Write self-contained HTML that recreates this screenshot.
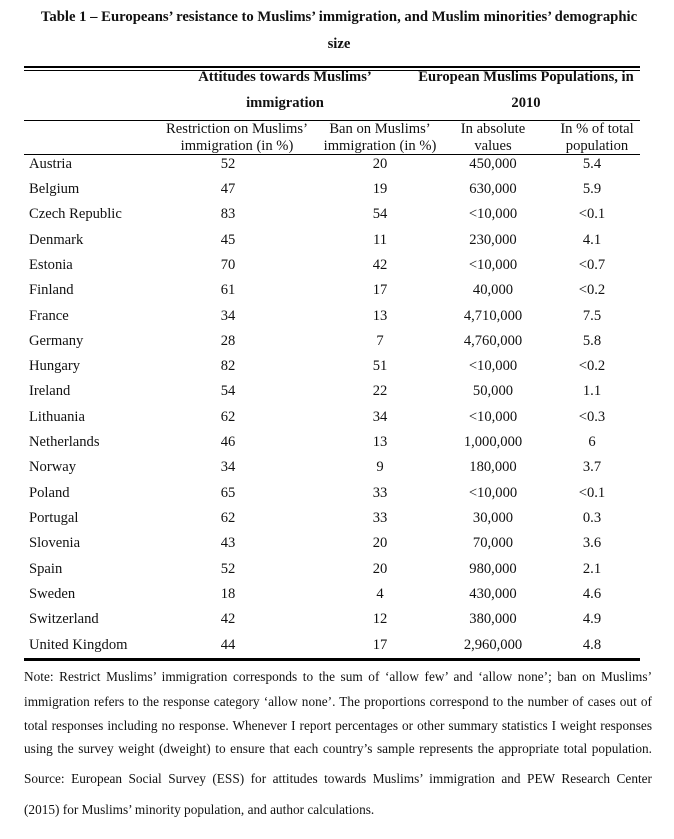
<!DOCTYPE html>
<html><head><meta charset="utf-8"><style>
body{margin:0;background:#fff;width:674px;height:839px;position:relative;font-family:"Liberation Serif",serif;color:#111;overflow:hidden}
.a{position:absolute;white-space:nowrap;font-size:14.6px;line-height:16px}
.b{font-weight:bold}
.c{transform:translateX(-50%);text-align:center}
.r{position:absolute;left:24px;width:616px;background:#000}
.n{position:absolute;left:24px;width:628px;font-size:13.3px;text-align:justify;text-align-last:justify;white-space:nowrap;line-height:16px}
</style></head><body>
<div class="a b c" style="left:339px;top:9px;font-size:14.7px">Table 1 – Europeans’ resistance to Muslims’ immigration, and Muslim minorities’ demographic</div>
<div class="a b c" style="left:339px;top:36px;font-size:14.7px">size</div>
<div class="r" style="top:66px;height:2px"></div>
<div class="r" style="top:69.5px;height:1px"></div>
<div class="a b c" style="left:285px;top:69px">Attitudes towards Muslims’</div>
<div class="a b c" style="left:285px;top:95px">immigration</div>
<div class="a b c" style="left:526px;top:69px">European Muslims Populations, in</div>
<div class="a b c" style="left:526px;top:95px">2010</div>
<div class="r" style="top:120px;height:1px"></div>
<div class="a c" style="left:237px;top:121px;line-height:17px">Restriction on Muslims’<br>immigration (in %)</div>
<div class="a c" style="left:380px;top:121px;line-height:17px">Ban on Muslims’<br>immigration (in %)</div>
<div class="a c" style="left:493px;top:121px;line-height:17px">In absolute<br>values</div>
<div class="a c" style="left:597px;top:121px;line-height:17px">In % of total<br>population</div>
<div class="r" style="top:154px;height:1px"></div>
<div class="r" style="top:658px;height:2.5px"></div>
<div class="n" style="top:669px">Note: Restrict Muslims’ immigration corresponds to the sum of ‘allow few’ and ‘allow none’; ban on Muslims’</div>
<div class="n" style="top:694px">immigration refers to the response category ‘allow none’. The proportions correspond to the number of cases out of</div>
<div class="n" style="top:718px">total responses including no response. Whenever I report percentages or other summary statistics I weight responses</div>
<div class="n" style="top:741px">using the survey weight (dweight) to ensure that each country’s sample represents the appropriate total population.</div>
<div class="n" style="top:771px">Source: European Social Survey (ESS) for attitudes towards Muslims’ immigration and PEW Research Center</div>
<div class="a" style="left:24px;top:802px;font-size:13.3px">(2015) for Muslims’ minority population, and author calculations.</div>
<div class="a" style="left:29px;top:156px">Austria</div><div class="a c" style="left:228px;top:156px">52</div><div class="a c" style="left:380px;top:156px">20</div><div class="a c" style="left:493px;top:156px">450,000</div><div class="a c" style="left:592px;top:156px">5.4</div>
<div class="a" style="left:29px;top:181px">Belgium</div><div class="a c" style="left:228px;top:181px">47</div><div class="a c" style="left:380px;top:181px">19</div><div class="a c" style="left:493px;top:181px">630,000</div><div class="a c" style="left:592px;top:181px">5.9</div>
<div class="a" style="left:29px;top:206px">Czech Republic</div><div class="a c" style="left:228px;top:206px">83</div><div class="a c" style="left:380px;top:206px">54</div><div class="a c" style="left:493px;top:206px">&lt;10,000</div><div class="a c" style="left:592px;top:206px">&lt;0.1</div>
<div class="a" style="left:29px;top:232px">Denmark</div><div class="a c" style="left:228px;top:232px">45</div><div class="a c" style="left:380px;top:232px">11</div><div class="a c" style="left:493px;top:232px">230,000</div><div class="a c" style="left:592px;top:232px">4.1</div>
<div class="a" style="left:29px;top:257px">Estonia</div><div class="a c" style="left:228px;top:257px">70</div><div class="a c" style="left:380px;top:257px">42</div><div class="a c" style="left:493px;top:257px">&lt;10,000</div><div class="a c" style="left:592px;top:257px">&lt;0.7</div>
<div class="a" style="left:29px;top:282px">Finland</div><div class="a c" style="left:228px;top:282px">61</div><div class="a c" style="left:380px;top:282px">17</div><div class="a c" style="left:493px;top:282px">40,000</div><div class="a c" style="left:592px;top:282px">&lt;0.2</div>
<div class="a" style="left:29px;top:308px">France</div><div class="a c" style="left:228px;top:308px">34</div><div class="a c" style="left:380px;top:308px">13</div><div class="a c" style="left:493px;top:308px">4,710,000</div><div class="a c" style="left:592px;top:308px">7.5</div>
<div class="a" style="left:29px;top:333px">Germany</div><div class="a c" style="left:228px;top:333px">28</div><div class="a c" style="left:380px;top:333px">7</div><div class="a c" style="left:493px;top:333px">4,760,000</div><div class="a c" style="left:592px;top:333px">5.8</div>
<div class="a" style="left:29px;top:358px">Hungary</div><div class="a c" style="left:228px;top:358px">82</div><div class="a c" style="left:380px;top:358px">51</div><div class="a c" style="left:493px;top:358px">&lt;10,000</div><div class="a c" style="left:592px;top:358px">&lt;0.2</div>
<div class="a" style="left:29px;top:383px">Ireland</div><div class="a c" style="left:228px;top:383px">54</div><div class="a c" style="left:380px;top:383px">22</div><div class="a c" style="left:493px;top:383px">50,000</div><div class="a c" style="left:592px;top:383px">1.1</div>
<div class="a" style="left:29px;top:409px">Lithuania</div><div class="a c" style="left:228px;top:409px">62</div><div class="a c" style="left:380px;top:409px">34</div><div class="a c" style="left:493px;top:409px">&lt;10,000</div><div class="a c" style="left:592px;top:409px">&lt;0.3</div>
<div class="a" style="left:29px;top:434px">Netherlands</div><div class="a c" style="left:228px;top:434px">46</div><div class="a c" style="left:380px;top:434px">13</div><div class="a c" style="left:493px;top:434px">1,000,000</div><div class="a c" style="left:592px;top:434px">6</div>
<div class="a" style="left:29px;top:459px">Norway</div><div class="a c" style="left:228px;top:459px">34</div><div class="a c" style="left:380px;top:459px">9</div><div class="a c" style="left:493px;top:459px">180,000</div><div class="a c" style="left:592px;top:459px">3.7</div>
<div class="a" style="left:29px;top:485px">Poland</div><div class="a c" style="left:228px;top:485px">65</div><div class="a c" style="left:380px;top:485px">33</div><div class="a c" style="left:493px;top:485px">&lt;10,000</div><div class="a c" style="left:592px;top:485px">&lt;0.1</div>
<div class="a" style="left:29px;top:510px">Portugal</div><div class="a c" style="left:228px;top:510px">62</div><div class="a c" style="left:380px;top:510px">33</div><div class="a c" style="left:493px;top:510px">30,000</div><div class="a c" style="left:592px;top:510px">0.3</div>
<div class="a" style="left:29px;top:535px">Slovenia</div><div class="a c" style="left:228px;top:535px">43</div><div class="a c" style="left:380px;top:535px">20</div><div class="a c" style="left:493px;top:535px">70,000</div><div class="a c" style="left:592px;top:535px">3.6</div>
<div class="a" style="left:29px;top:561px">Spain</div><div class="a c" style="left:228px;top:561px">52</div><div class="a c" style="left:380px;top:561px">20</div><div class="a c" style="left:493px;top:561px">980,000</div><div class="a c" style="left:592px;top:561px">2.1</div>
<div class="a" style="left:29px;top:586px">Sweden</div><div class="a c" style="left:228px;top:586px">18</div><div class="a c" style="left:380px;top:586px">4</div><div class="a c" style="left:493px;top:586px">430,000</div><div class="a c" style="left:592px;top:586px">4.6</div>
<div class="a" style="left:29px;top:611px">Switzerland</div><div class="a c" style="left:228px;top:611px">42</div><div class="a c" style="left:380px;top:611px">12</div><div class="a c" style="left:493px;top:611px">380,000</div><div class="a c" style="left:592px;top:611px">4.9</div>
<div class="a" style="left:29px;top:637px">United Kingdom</div><div class="a c" style="left:228px;top:637px">44</div><div class="a c" style="left:380px;top:637px">17</div><div class="a c" style="left:493px;top:637px">2,960,000</div><div class="a c" style="left:592px;top:637px">4.8</div>
</body></html>
